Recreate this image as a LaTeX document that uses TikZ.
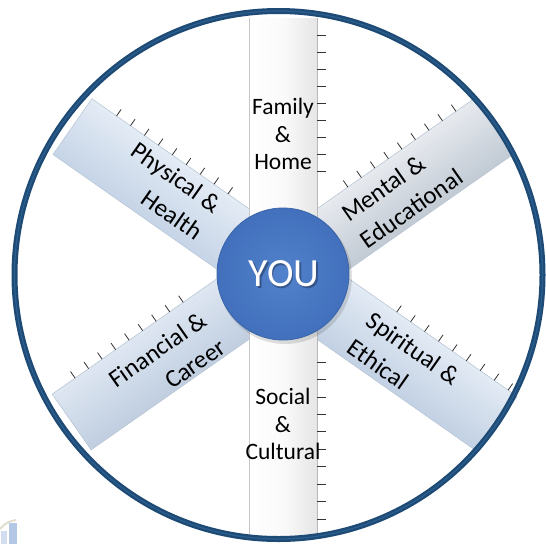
\documentclass[tikz,border=0pt]{standalone}
\usepackage{fontspec}
\setmainfont{Carlito}
\definecolor{ringblue}{HTML}{1E4B76}
\definecolor{ringhi}{HTML}{2C5E8E}
\definecolor{youin}{HTML}{5282CC}
\definecolor{youout}{HTML}{4270BC}
\definecolor{youedge}{HTML}{3A64A8}
\definecolor{barline}{HTML}{B4C2D2}
\definecolor{physlight}{HTML}{E3EBF5}
\definecolor{physdark}{HTML}{C6D5E7}
\definecolor{spirlight}{HTML}{E2EAF4}
\definecolor{spirdark}{HTML}{C3D2E4}
\definecolor{mentlight}{HTML}{E6E9EE}
\definecolor{mentdark}{HTML}{C3CBD5}
\definecolor{finlight}{HTML}{DDE6F1}
\definecolor{findark}{HTML}{C1CFE1}
\definecolor{logoblue}{HTML}{B4C8E6}
\definecolor{logopale}{HTML}{D2DEEF}
\definecolor{logoarc}{HTML}{E2DDCC}
% one diagonal spoke built from thin strips: angle, colour on the -y edge, colour on the +y edge, length
\newcommand\wheelspoke[4]{%
  \begin{scope}[shift={(283,274)},rotate=#1]
    \foreach \i in {0,...,16}{%
      \pgfmathsetmacro\mixp{100*\i/16}%
      \fill[#3!\mixp!#2] (0,{-34+4*\i}) rectangle (#4,{min(34,-34+4*\i+4.4)});
    }
    \draw[barline,line width=0.5pt] (0,-34) -- (#4,-34) -- (#4,34) -- (0,34);
  \end{scope}}
% a row of ticks along one edge of a spoke: angle, edge offset, tick length, first, second, last
\newcommand\spoketicks[6]{%
  \begin{scope}[shift={(283,274)},rotate=#1]
    \foreach \s in {#4,#5,...,#6} \draw[tickmark] (\s,#2) -- ++(0,#3);
  \end{scope}}
\begin{document}
\begin{tikzpicture}[x=1pt,y=-1pt,
  tickmark/.style={line width=0.8pt,black!80},
  lbl/.style={font=\fontsize{23.5}{27.5}\selectfont,text=black,inner sep=0pt},
  dlbl/.style={font=\fontsize{25}{33}\selectfont,text=black,inner sep=0pt},
]
\fill[white] (0,0) rectangle (546,544);
\useasboundingbox (0,0) rectangle (546,544);

% logo fragment in the lower left corner
\fill[logoblue] (9,523) rectangle (17,544);
\fill[logopale] (1,531) rectangle (7,544);
\draw[logoarc,line width=2pt] (0,529) to[bend left=20] (16,520);

% diagonal spokes
\wheelspoke{145}{physdark}{physlight}{257}
\wheelspoke{-35}{spirlight}{spirdark}{262}
\wheelspoke{35}{mentlight}{mentdark}{257}
\wheelspoke{215}{findark}{finlight}{258}

% ticks on the diagonal spokes
\spoketicks{145}{34}{8}{91}{108}{227}
\spoketicks{35}{-34}{-8}{103}{119.5}{236}
\spoketicks{-35}{-34}{-8}{115}{132}{252}
\spoketicks{215}{34}{8}{98}{114.5}{231}

% vertical spoke
\shade[left color=white,right color=gray!20,middle color=gray!4] (249,18) rectangle (317,535);
\draw[gray!45,line width=0.6pt] (249,18) -- (249,535);
\draw[gray!55,line width=0.6pt] (317,18) -- (317,535);
\spoketicks{90}{34}{9}{103}{120}{239}
\spoketicks{270}{-34}{-9}{88}{105.45}{246}

% labels
\node[lbl,align=center] (family) at (283,134) {Family\\\&\\Home};
\node[lbl,align=center] (social) at (283,424) {Social\\\&\\Cultural};
\node[dlbl,align=right,rotate=-35] (physical) at (167,191) {Physical \&\\Health};
\node[dlbl,align=left,rotate=35] (mental) at (402,195) {Mental \&\\Educational};
\node[dlbl,align=left,rotate=-35] (spiritual) at (404,362) {Spiritual \&\\Ethical};
\node[dlbl,align=right,rotate=35] (financial) at (167,363) {Financial \&\\Career};

% hub
\fill[black,opacity=0.12] (285,277) circle[radius=67pt];
\shade[inner color=youin,outer color=youout] (283,274) circle[radius=66pt];
\draw[youedge,line width=0.8pt] (283,274) circle[radius=66pt];
\node[font=\fontsize{40}{42}\selectfont,text=black,opacity=0.3] (youshadow) at (285.5,275.5) {YOU};
\node[font=\fontsize{40}{42}\selectfont,text=white] (you) at (284,274) {YOU};

% outer rim
\draw[ringblue,line width=6pt] (278.5,275) circle[radius=264pt];
\draw[ringhi,line width=1.2pt] (278.5,275) circle[radius=264pt];
\end{tikzpicture}
\end{document}
